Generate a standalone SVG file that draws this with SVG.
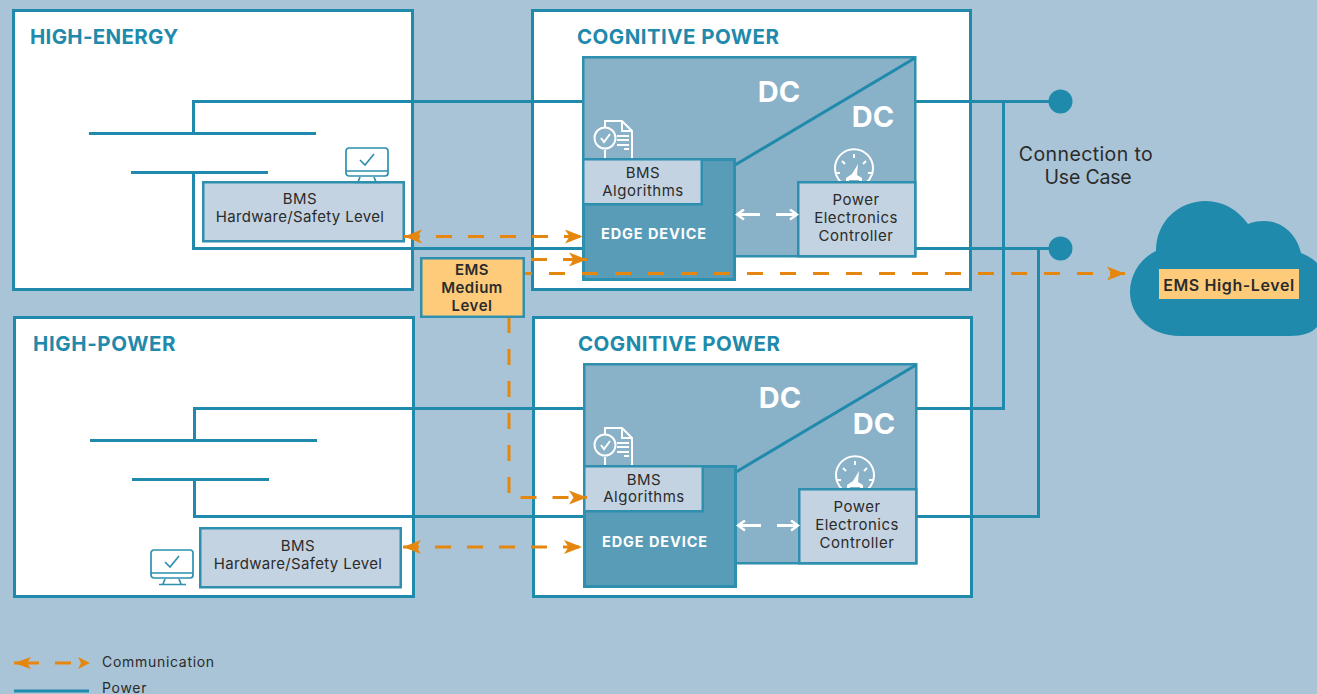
<svg xmlns="http://www.w3.org/2000/svg" width="1317" height="694" viewBox="0 0 1317 694">
<style>
text{font-family:Inter,"Liberation Sans",sans-serif;fill:#2b2b2b;font-size:15px;text-anchor:middle;letter-spacing:.5px}
.t{font-size:20.5px;font-weight:700;fill:#1f8aab;text-anchor:start}
.dc{font-size:29px;font-weight:700;fill:#fff;letter-spacing:0}
.ed{font-size:14.500px;font-weight:700;fill:#fff;letter-spacing:.9px}
.b{font-weight:600;fill:#2b2b2b}
.hw{letter-spacing:.33px}
.box{fill:#fff;stroke:#1f8aab;stroke-width:3}
.conv{fill:#89b1c7;stroke:#2e90ae;stroke-width:2.5}
.edge{fill:#599cb8;stroke:#2e90ae;stroke-width:3}
.lt{fill:#c3d3e1;stroke:#2e90ae;stroke-width:2.5}
.p{fill:none;stroke:#1f8aab;stroke-width:3}
.c{fill:none;stroke:#e5870f;stroke-width:3;stroke-dasharray:16 16}
.s{fill:none;stroke:#e5870f;stroke-width:3}
.ic{fill:none;stroke:#2e90ae;stroke-width:1.7}
.iw{fill:none;stroke:#fff;stroke-width:2}
.wa{fill:none;stroke:#fff;stroke-width:3}
.l{font-size:19.500px;letter-spacing:.4px}
.lg{font-size:14px;text-anchor:start;letter-spacing:.7px}
</style>
<defs>
<marker id="o" markerUnits="userSpaceOnUse" markerWidth="20" markerHeight="16" refX="19" refY="8" orient="auto-start-reverse"><path d="M1 1L19 8L1 15L5.500 8Z" fill="#e5870f"/></marker>
<marker id="w" markerUnits="userSpaceOnUse" markerWidth="14" markerHeight="12" refX="12" refY="6" orient="auto-start-reverse"><path d="M5 1L12 6L5 11" fill="none" stroke="#fff" stroke-width="2.500"/></marker>
<g id="mon"><rect class="ic" x="1" y="1" width="42" height="28" rx="3"/><path class="ic" d="M1 24H43M15 30L13 35M29 30L31 35M9 35.500H36M15 13L20 18L29 7"/></g>
<g id="doc"><path class="iw" d="M10 7V1H27L37 11V38M10 30V38"/><path class="iw" d="M27 1V11H37M22 16H34M22 20H34M22 25H34M29 29H34"/><circle class="iw" cx="10" cy="18" r="10.500"/><path class="iw" d="M6 18L9 22L15 14"/></g>
<g id="gau"><path class="iw" d="M7 30A19 19 0 1 1 33 30M20 2V6M8 9L11 12M32 9L29 12M2 21H6M34 21H38"/><path d="M12 30V26L18 22L24 12L23 23L28 26V30H25V28H15V30Z" fill="#fff"/></g>
</defs>
<rect width="1317" height="694" fill="#a9c4d7"/>

<g id="high-energy"><rect class="box" x="13.500" y="10.500" width="399" height="279"/><text class="t" style="letter-spacing:.3px" x="30" y="43.500">HIGH-ENERGY</text></g>
<g id="high-power"><rect class="box" x="14.500" y="317.500" width="399" height="279"/><text class="t" style="letter-spacing:.6px" x="33" y="350.500">HIGH-POWER</text></g>
<g id="cognitive-1"><rect class="box" x="532.500" y="10.500" width="438" height="279"/><text class="t" style="letter-spacing:.45px" x="577" y="43.500">COGNITIVE POWER</text></g>
<g id="cognitive-2"><rect class="box" x="533.500" y="317.500" width="438" height="279"/><text class="t" style="letter-spacing:.45px" x="578" y="350.500">COGNITIVE POWER</text></g>

<g id="power-connectors">
<path class="p" d="M583 101.500H193.500V133M89 133.500H316M131 172.500H268M193.500 172V248.500H583"/>
<path class="p" d="M584 408.500H194.500V440M90 440.500H317M132 479.500H269M194.500 479V516.500H584"/>
<path class="p" d="M915 101.500H1060M915 248.500H1060M916 408.500H1003.500V101.500M916 516.500H1038.500V248.500"/>
<circle cx="1060.500" cy="101.500" r="12" fill="#1f8aab"/><circle cx="1060.500" cy="248.500" r="12" fill="#1f8aab"/>
</g>

<g id="converter-1">
<rect class="conv" x="583.250" y="57.250" width="332" height="199"/>
<path class="p" d="M735 165L915 58"/>
<text class="dc" x="779" y="102">DC</text><text class="dc" x="873" y="127">DC</text>
<use href="#doc" x="595" y="120"/><use href="#gau" x="834" y="152"/>
</g>
<g id="edge-1"><rect class="edge" x="583.500" y="159.500" width="151" height="120"/><text class="ed" x="654" y="239">EDGE DEVICE</text></g>
<g id="bms-alg-1"><rect class="lt" x="583.250" y="159.250" width="118.500" height="45"/><text x="643" y="178">BMS</text><text x="643" y="196">Algorithms</text></g>
<g id="pec-1"><rect class="lt" x="798.250" y="182.250" width="117" height="74"/><text x="856" y="205">Power</text><text x="856" y="223">Electronics</text><text x="856" y="241">Controller</text></g>

<g id="converter-2">
<rect class="conv" x="584.250" y="364.250" width="332" height="199"/>
<path class="p" d="M736 472L916 365"/>
<text class="dc" x="780" y="408">DC</text><text class="dc" x="874" y="434">DC</text>
<use href="#doc" x="595" y="427"/><use href="#gau" x="835" y="459"/>
</g>
<g id="edge-2"><rect class="edge" x="584.500" y="466.500" width="151" height="120"/><text class="ed" x="655" y="547">EDGE DEVICE</text></g>
<g id="bms-alg-2"><rect class="lt" x="584.250" y="466.250" width="118.500" height="45"/><text x="644" y="485">BMS</text><text x="644" y="502">Algorithms</text></g>
<g id="pec-2"><rect class="lt" x="799.250" y="489.250" width="117" height="74"/><text x="857" y="512">Power</text><text x="857" y="530">Electronics</text><text x="857" y="548">Controller</text></g>

<g id="bms-hw-1"><rect class="lt" x="203.250" y="182.250" width="200.500" height="59"/><text x="300" y="204">BMS</text><text class="hw" x="300" y="222">Hardware/Safety Level</text><use href="#mon" x="345" y="147"/></g>
<g id="bms-hw-2"><rect class="lt" x="200.250" y="528.250" width="200.500" height="59"/><text x="298" y="551">BMS</text><text class="hw" x="298" y="569">Hardware/Safety Level</text><use href="#mon" x="150" y="549"/></g>

<g id="comm-connectors">
<path class="c" d="M404 236.500H583" marker-start="url(#o)" marker-end="url(#o)"/>
<path class="s" d="M531 259.500H547M563 259.500H587" marker-end="url(#o)"/>
<path class="c" style="stroke-dasharray:16 17;stroke-dashoffset:8" d="M524 273.500H1125" marker-end="url(#o)"/>
<path class="c" d="M509 317V497.500H587" marker-end="url(#o)"/>
<path class="c" d="M403 547H582" marker-start="url(#o)" marker-end="url(#o)"/>
<path class="wa" d="M737 214.500H760M776 214.500H797" marker-start="url(#w)" marker-end="url(#w)"/>
<path class="wa" d="M738 525.500H761M777 525.500H798" marker-start="url(#w)" marker-end="url(#w)"/>
</g>

<g id="ems-medium"><rect x="421.250" y="258.250" width="102.500" height="58.500" fill="#fecb7a" stroke="#2e90ae" stroke-width="2.500"/><text class="b" x="472" y="275">EMS</text><text class="b" x="472" y="293">Medium</text><text class="b" x="472" y="311">Level</text></g>

<g id="connection-label"><text class="l" x="1086" y="160.500">Connection to</text><text class="l" style="letter-spacing:-.2px" x="1088" y="183.500">Use Case</text></g>

<g id="cloud">
<path d="M1156 251C1156 222 1178 201 1206 201C1223 201 1238 210 1248 224C1252 222 1258 221 1264 221C1283 221 1297 235 1301 253C1309 256 1314 260 1317 263V327C1312 333 1302 336 1290 336H1180C1151 336 1130 316 1130 292C1130 274 1141 258 1156 251Z" fill="#1f8aab"/>
<rect x="1159" y="269" width="140" height="30" fill="#fecb7a"/><text class="b" style="font-size:16px;letter-spacing:.6px" x="1229" y="291">EMS High-Level</text>
</g>

<g id="legend">
<path d="M14 663H39M55 663H71" fill="none" stroke="#e5870f" stroke-width="3"/>
<path d="M14 663L31 657L27 663L31 669ZM90 663L78 657L81 663L78 669Z" fill="#e5870f"/>
<path d="M14 691H89" class="p"/>
<text class="lg" x="102" y="667">Communication</text>
<text class="lg" x="102" y="693">Power</text>
</g>
</svg>
